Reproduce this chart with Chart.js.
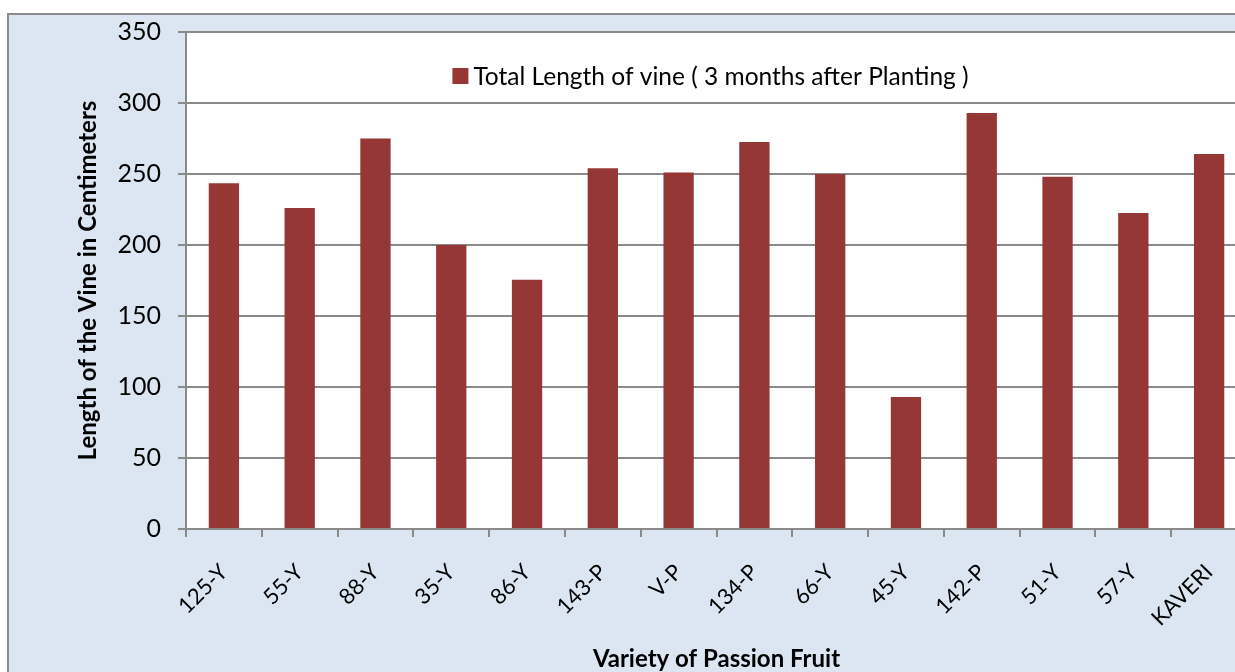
<!DOCTYPE html>
<html>
<head>
<meta charset="utf-8">
<script src="https://cdn.jsdelivr.net/npm/chart.js@4.4.1/dist/chart.umd.min.js"></script>
<style>
  html, body { margin: 0; padding: 0; overflow: hidden; background: #ffffff; }
  #wrap { position: absolute; left: 0; top: 0; width: 1270px; height: 700px; }
</style>
</head>
<body>
<div id="wrap"><canvas id="vineChart" width="1270" height="700"></canvas></div>
<script>
// varieties along the x axis
const varieties = ["125-Y", "55-Y", "88-Y", "35-Y", "86-Y", "143-P", "V-P",
                   "134-P", "66-Y", "45-Y", "142-P", "51-Y", "57-Y", "KAVERI"];

// total vine length (cm), 3 months after planting
const vineLength = [243.5, 226, 275, 200, 175.5, 254, 251, 272.5, 250, 93, 293, 248, 222.5, 264];

const seriesLabel = "Total Length of vine ( 3 months after Planting )";
const yTicks = [0, 50, 100, 150, 200, 250, 300, 350];

const barColor = "#953735";
const gridColor = "#8a8a8a";
const fontFamily = "Lato, 'Liberation Sans', sans-serif";

// light blue panel with grey frame, white plot area
const panelBackground = {
    id: "panelBackground",
    beforeDraw(chart) {
        const ctx = chart.ctx;
        const area = chart.chartArea;
        ctx.save();
        ctx.fillStyle = "#ffffff";
        ctx.fillRect(0, 0, chart.width, chart.height);
        ctx.fillStyle = "#dce6f2";
        ctx.fillRect(8, 14, chart.width - 8, chart.height - 14);
        ctx.strokeStyle = "#8c8c8c";
        ctx.lineWidth = 2;
        ctx.beginPath();
        ctx.moveTo(8, chart.height);
        ctx.lineTo(8, 14);
        ctx.lineTo(chart.width, 14);
        ctx.stroke();
        ctx.fillStyle = "#ffffff";
        ctx.fillRect(area.left, area.top, area.right - area.left, area.bottom - area.top);
        ctx.restore();
    }
};

// legend drawn inside the plot area, centred near the top
const innerLegend = {
    id: "innerLegend",
    afterDraw(chart) {
        const ctx = chart.ctx;
        const area = chart.chartArea;
        const ds = chart.data.datasets[0];
        ctx.save();
        ctx.font = "24.5px " + fontFamily;
        const textW = ctx.measureText(ds.label).width;
        const box = 16, gap = 5;
        const total = box + gap + textW;
        const x0 = (area.left + area.right) / 2 - total / 2 - 6;
        const cy = area.top + 44;
        ctx.fillStyle = ds.backgroundColor;
        ctx.fillRect(x0, cy - box / 2, box, box);
        ctx.fillStyle = "#000000";
        ctx.textBaseline = "middle";
        ctx.textAlign = "left";
        ctx.fillText(ds.label, x0 + box + gap, cy + 1);
        ctx.restore();
    }
};

const ctx = document.getElementById("vineChart").getContext("2d");

new Chart(ctx, {
    type: "bar",
    data: {
        labels: varieties,
        datasets: [{
            label: seriesLabel,
            data: vineLength,
            backgroundColor: barColor,
            borderWidth: 0,
            barPercentage: 0.4,
            categoryPercentage: 1.0
        }]
    },
    options: {
        responsive: false,
        animation: false,
        layout: {
            padding: { left: 0, top: 31, right: 23, bottom: 0 }
        },
        plugins: {
            legend: { display: false },
            tooltip: { enabled: false }
        },
        scales: {
            x: {
                afterFit(scale) { scale.height = 171; },
                grid: {
                    offset: true,
                    drawOnChartArea: false,
                    color: gridColor,
                    lineWidth: 2,
                    tickLength: 8
                },
                border: { color: gridColor, width: 2 },
                ticks: {
                    autoSkip: false,
                    maxRotation: 45,
                    minRotation: 45,
                    padding: 22,
                    color: "#000000",
                    font: { family: fontFamily, size: 22 }
                },
                title: {
                    display: true,
                    text: "Variety of Passion Fruit",
                    color: "#000000",
                    font: { family: fontFamily, size: 24, weight: "bold" },
                    padding: { top: 26, bottom: 26 }
                }
            },
            y: {
                min: 0,
                max: 350,
                afterFit(scale) { scale.width = 186; },
                afterBuildTicks(scale) {
                    scale.ticks = yTicks.map(v => ({ value: v }));
                },
                grid: {
                    color: gridColor,
                    lineWidth: 2,
                    tickLength: 8
                },
                border: { color: gridColor, width: 2 },
                ticks: {
                    padding: 17,
                    color: "#000000",
                    font: { family: fontFamily, size: 25 }
                },
                title: {
                    display: true,
                    text: "Length of the Vine in Centimeters",
                    color: "#000000",
                    font: { family: fontFamily, size: 24, weight: "bold" },
                    padding: { top: 74, bottom: 0 }
                }
            }
        }
    },
    plugins: [panelBackground, innerLegend]
});
</script>
</body>
</html>
